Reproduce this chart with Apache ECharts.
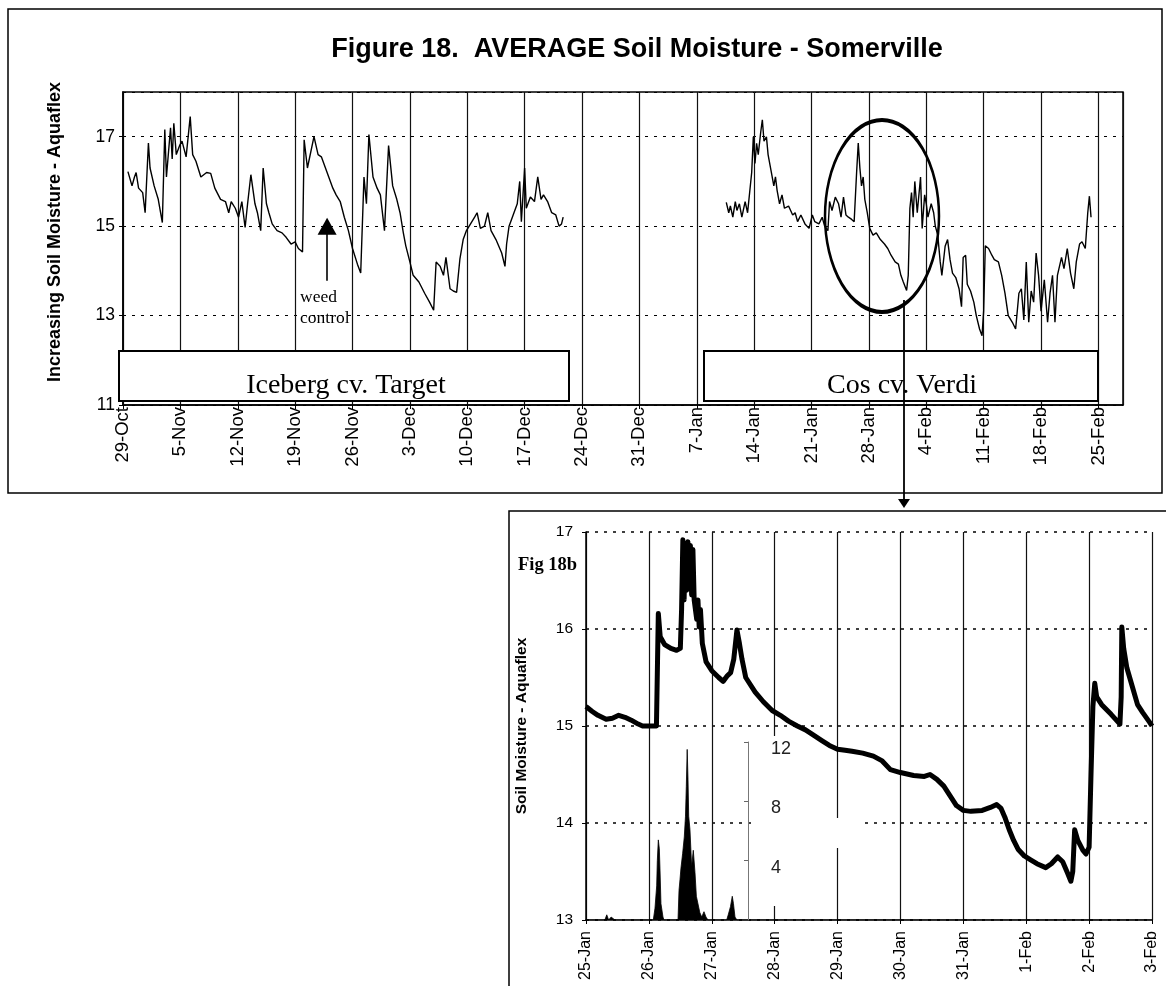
<!DOCTYPE html>
<html>
<head>
<meta charset="utf-8">
<script src="https://cdn.jsdelivr.net/npm/echarts@6/dist/echarts.min.js"></script>
<style>
  html, body { margin: 0; padding: 0; background: #fff; }
  #chart { width: 1166px; height: 986px; }
</style>
</head>
<body>
<div id="chart"></div>
<script>
// ---- Weekly tick labels (days counted from 29-Oct) ----
const weekLabels = ['29-Oct','5-Nov','12-Nov','19-Nov','26-Nov','3-Dec','10-Dec','17-Dec','24-Dec',
  '31-Dec','7-Jan','14-Jan','21-Jan','28-Jan','4-Feb','11-Feb','18-Feb','25-Feb'];
// ---- Daily tick labels for the detail panel (days counted from 25-Jan) ----
const dayLabels = ['25-Jan','26-Jan','27-Jan','28-Jan','29-Jan','30-Jan','31-Jan','1-Feb','2-Feb','3-Feb'];

// ---- Iceberg cv. Target: average soil moisture (day from 29-Oct, Aquaflex reading) ----
const icebergDay = [0.6,1.1,1.4,1.6,1.9,2.4,2.7,3.1,3.3,3.8,4.3,4.8,5.1,5.3,5.8,6.0,6.2,6.5,6.9,7.2,7.7,8.2,8.5,8.9,
  9.5,10.2,10.7,11.2,11.9,12.5,12.9,13.2,13.7,14.1,14.5,14.9,15.2,15.6,16.1,16.4,16.8,17.1,17.5,17.8,18.2,18.8,
  19.4,19.9,20.5,21.0,21.4,21.9,22.1,22.5,23.3,23.8,24.2,24.7,25.1,25.6,26.0,26.5,27.0,27.5,28.0,28.6,29.0,29.4,
  29.7,30.0,30.5,31.0,31.4,31.9,32.4,32.9,33.4,33.8,34.2,34.5,35.0,35.4,36.1,36.8,37.4,37.9,38.2,38.7,39.1,39.4,
  39.9,40.3,40.7,41.1,41.5,41.9,42.9,43.2,43.6,44.1,44.5,44.9,45.5,46.2,46.6,46.8,47.1,47.6,48.1,48.4,48.6,49.0,
  49.2,49.7,50.2,50.6,51.0,51.3,51.8,52.3,52.8,53.2,53.5,53.7];
const icebergMoisture = [16.22,15.9,16.1,16.2,15.85,15.75,15.3,16.86,16.3,15.9,15.6,15.08,17.16,16.1,17.2,16.5,17.3,16.6,
  16.8,16.9,16.55,17.45,16.6,16.45,16.1,16.2,16.18,15.85,15.6,15.55,15.3,15.55,15.4,15.2,15.55,14.97,15.5,16.15,
  15.5,15.3,14.9,16.3,15.5,15.3,15.05,14.9,14.85,14.75,14.6,14.65,14.5,14.42,16.93,16.3,17.0,16.6,16.55,16.3,16.1,
  15.85,15.7,15.55,15.2,14.9,14.5,14.15,13.95,16.1,15.5,17.05,16.1,15.85,15.7,14.9,16.8,15.9,15.6,15.3,14.85,14.56,
  14.2,13.9,13.75,13.5,13.3,13.12,14.2,14.1,13.9,14.3,13.6,13.55,13.52,14.26,14.7,14.9,15.2,15.3,14.95,15.0,15.3,
  14.9,14.7,14.4,14.1,14.6,15.0,15.25,15.5,16.0,15.1,16.3,15.4,15.65,15.55,16.1,15.6,15.7,15.55,15.3,15.25,15.0,
  15.05,15.2];

// ---- Cos cv. Verdi: average soil moisture (day from 29-Oct, Aquaflex reading) ----
const cosDay = [73.6,73.9,74.1,74.4,74.7,74.9,75.2,75.5,75.9,76.2,76.7,76.9,77.1,77.3,77.5,77.8,78.0,78.2,78.5,78.7,
  79.1,79.4,79.6,79.8,80.1,80.4,80.7,81.2,81.7,82.0,82.3,82.7,83.2,83.7,84.1,84.4,84.9,85.3,85.6,86.0,86.2,86.5,
  86.9,87.3,87.6,87.9,88.2,88.5,88.9,89.2,89.5,89.7,89.9,90.1,90.3,90.5,90.8,91.1,91.5,91.9,92.4,92.9,93.3,93.7,
  94.2,94.6,94.9,95.2,95.6,95.8,96.0,96.2,96.4,96.6,96.9,97.3,97.5,97.8,98.0,98.2,98.6,98.9,99.1,99.4,99.7,99.9,
  100.3,100.6,100.9,101.2,101.6,102.0,102.3,102.5,102.8,103.0,103.4,103.8,104.1,104.5,104.8,105.0,105.2,105.6,
  106.0,106.3,106.8,107.2,107.6,108.0,108.5,108.9,109.3,109.6,109.9,110.2,110.5,110.8,111.1,111.4,111.7,112.0,
  112.4,112.8,113.1,113.4,113.7,114.0,114.5,114.8,115.2,115.6,116.0,116.3,116.7,117.0,117.4,117.7,117.9,118.1];
const cosMoisture = [15.53,15.3,15.45,15.2,15.55,15.35,15.5,15.2,15.55,15.3,16.2,17.0,16.4,16.85,16.6,17.1,17.38,16.9,
  17.0,16.6,16.2,15.9,16.1,15.8,15.5,15.7,15.4,15.45,15.25,15.3,15.1,15.25,15.05,14.95,15.25,15.1,15.05,15.2,15.0,
  14.9,15.55,15.35,15.65,15.5,15.2,15.65,15.25,15.2,15.15,15.1,16.2,16.86,16.3,15.9,16.1,15.6,15.3,14.95,14.8,
  14.85,14.7,14.6,14.5,14.35,14.2,14.15,13.9,13.75,13.56,13.9,15.4,15.75,15.2,16.0,15.3,16.1,14.95,15.7,15.5,
  15.2,15.5,15.3,15.0,14.8,14.2,13.9,14.55,14.7,14.25,13.95,13.85,13.6,13.2,14.3,14.35,13.7,13.55,13.3,13.0,12.7,
  12.55,13.1,14.56,14.5,14.35,14.25,14.2,13.9,13.5,13.0,12.85,12.7,13.5,13.6,12.9,14.2,12.85,13.55,13.3,14.4,13.9,
  13.1,13.8,12.85,13.5,13.9,12.85,13.9,14.3,14.05,14.5,13.95,13.6,14.2,14.6,14.65,14.5,15.3,15.67,15.2];

// ---- Fig 18b detail: soil moisture 25-Jan to 3-Feb (day from 25-Jan) ----
const detailDay = [0.00,0.10,0.19,0.32,0.42,0.52,0.62,0.72,0.83,0.90,1.12,1.15,1.18,1.25,1.35,1.44,1.50,1.52,1.54,
  1.56,1.58,1.60,1.62,1.64,1.66,1.68,1.70,1.72,1.74,1.76,1.78,1.80,1.82,1.85,1.91,2.00,2.11,2.18,2.25,2.30,2.35,
  2.40,2.44,2.48,2.54,2.69,2.82,2.96,3.09,3.22,3.36,3.49,3.63,3.75,3.87,4.00,4.12,4.23,4.40,4.57,4.71,4.84,5.00,
  5.21,5.38,5.47,5.58,5.69,5.79,5.89,6.00,6.12,6.30,6.43,6.53,6.60,6.66,6.73,6.80,6.87,6.97,7.07,7.17,7.31,7.40,
  7.50,7.58,7.66,7.71,7.74,7.77,7.82,7.90,7.95,8.00,8.03,8.06,8.09,8.12,8.20,8.35,8.49,8.51,8.52,8.55,8.60,8.69,
  8.77,8.85,8.96,9.00];
const detailMoisture = [15.20,15.15,15.11,15.07,15.08,15.11,15.09,15.06,15.02,15.00,15.00,16.16,15.92,15.84,15.80,
  15.78,15.80,16.20,16.92,16.30,16.88,16.40,16.90,16.50,16.86,16.35,16.82,16.30,16.32,16.10,16.30,16.02,16.20,
  15.85,15.66,15.57,15.50,15.46,15.52,15.55,15.69,15.99,15.85,15.69,15.50,15.35,15.25,15.16,15.11,15.05,15.00,
  14.96,14.90,14.85,14.80,14.76,14.75,14.74,14.72,14.69,14.64,14.55,14.52,14.49,14.48,14.50,14.45,14.38,14.28,
  14.18,14.13,14.12,14.13,14.16,14.19,14.15,14.06,13.93,13.82,13.73,13.66,13.62,13.58,13.54,13.58,13.65,13.60,
  13.48,13.40,13.50,13.93,13.82,13.72,13.68,13.75,14.50,15.20,15.44,15.30,15.22,15.12,15.02,15.30,16.02,15.80,
  15.60,15.40,15.22,15.14,15.04,15.00];

// ---- Fig 18b detail: rainfall, mm (day from 25-Jan) ----
const rainDay = [0.00,0.30,0.33,0.36,0.40,0.43,0.46,1.07,1.097,1.124,1.134,1.150,1.166,1.176,1.192,1.224,1.24,
  1.463,1.479,1.494,1.510,1.537,1.563,1.582,1.595,1.609,1.622,1.633,1.653,1.680,1.706,1.733,1.755,1.81,1.84,
  1.876,1.908,1.94,2.237,2.265,2.297,2.326,2.345,2.369,2.40,9.00];
const rainMm = [0,0,0.35,0,0.2,0.2,0,0,0.8,2.3,4.0,5.4,4.8,3.5,1.1,0.2,0,
  0,2.0,2.7,3.5,4.5,5.6,7.0,9.0,11.5,9.5,7.0,6.1,3.6,4.7,3.2,1.6,0.5,0.2,
  0.56,0.2,0,0,0.4,0.9,1.6,1.1,0.2,0,0];

// Weed control date (day from 29-Oct) and the arrow's extent in moisture units
const weedControlDay = 24.9;
const weedArrowFrom = 13.78;
const weedArrowTo = 15.0;

const pairs = (xs, ys) => xs.map((x, i) => [x, ys[i]]);

const SANS = "'Liberation Sans', Arial, sans-serif";
const SERIF = "'Liberation Serif', 'Times New Roman', serif";

const chart = echarts.init(document.getElementById('chart'), null, { renderer: 'canvas' });

const dotted = { color: '#000', width: 1.2, type: [3, 6] };

chart.setOption({
  animation: false,
  backgroundColor: '#fff',
  grid: [
    { left: 123, top: 92, width: 1000, height: 313, show: true, borderColor: '#000', borderWidth: 1.5, backgroundColor: 'transparent' },
    { left: 586, top: 532, width: 566, height: 388 },
    { left: 586, top: 742, width: 566, height: 178 }
  ],
  xAxis: [
    {
      gridIndex: 0, type: 'value', min: 0, max: 122, interval: 7,
      axisLine: { show: true, onZero: false, lineStyle: { color: '#000', width: 1.5 } },
      axisTick: { show: true, length: 4, lineStyle: { color: '#000' } },
      splitLine: { show: true, lineStyle: { color: '#111', width: 1.2 } },
      axisLabel: {
        rotate: 90, margin: 2, showMaxLabel: false,
        fontFamily: SANS, fontSize: 18.5, color: '#000',
        formatter: v => (v % 7 === 0 ? (weekLabels[v / 7] || '') : '')
      }
    },
    {
      gridIndex: 1, type: 'value', min: 0, max: 9, interval: 1,
      axisLine: { show: true, onZero: false, lineStyle: { color: '#000', width: 1.5 } },
      axisTick: { show: true, length: 4, lineStyle: { color: '#000' } },
      splitLine: { show: true, lineStyle: { color: '#111', width: 1.2 } },
      axisLabel: {
        rotate: 90, margin: 11,
        fontFamily: SANS, fontSize: 16, color: '#000',
        formatter: v => (Number.isInteger(v) ? (dayLabels[v] || '') : '')
      }
    },
    { gridIndex: 2, type: 'value', min: 0, max: 9, show: false }
  ],
  yAxis: [
    {
      gridIndex: 0, type: 'value', min: 11, max: 18, interval: 2,
      axisLine: { show: true, lineStyle: { color: '#000', width: 1.5 } },
      axisTick: { show: true, length: 4, lineStyle: { color: '#000' } },
      splitLine: { show: true, lineStyle: dotted },
      axisLabel: { margin: 8, showMaxLabel: false, fontFamily: SANS, fontSize: 17.5, color: '#000' }
    },
    {
      gridIndex: 1, type: 'value', min: 13, max: 17, interval: 1,
      axisLine: { show: true, lineStyle: { color: '#000', width: 1.5 } },
      axisTick: { show: true, length: 4, lineStyle: { color: '#000' } },
      splitLine: { show: true, lineStyle: { color: '#000', width: 1.5, type: [3, 6] } },
      axisLabel: { margin: 13, fontFamily: SANS, fontSize: 15.5, color: '#000' },
      name: 'Soil Moisture - Aquaflex', nameLocation: 'middle', nameGap: 56,
      nameTextStyle: { fontFamily: SANS, fontSize: 15.5, fontWeight: 'bold', color: '#000' }
    },
    {
      gridIndex: 2, type: 'value', min: 0, max: 12, interval: 4,
      position: 'left', offset: -162, z: 5,
      axisLine: { show: true, lineStyle: { color: '#777', width: 1 } },
      axisTick: { show: true, length: 4, lineStyle: { color: '#666' } },
      splitLine: { show: false },
      axisLabel: {
        inside: true, margin: 23, showMinLabel: false,
        verticalAlign: 'top', lineHeight: 14,
        fontFamily: SANS, fontSize: 18, color: '#222'
      }
    }
  ],
  series: [
    {
      name: 'Iceberg cv. Target', type: 'line', xAxisIndex: 0, yAxisIndex: 0,
      data: pairs(icebergDay, icebergMoisture),
      showSymbol: false, lineStyle: { color: '#000', width: 1.4 },
      markLine: {
        silent: true, symbol: 'none',
        lineStyle: { color: '#000', width: 1.6, type: 'solid' },
        label: { show: false },
        data: [[{ coord: [weedControlDay, weedArrowFrom] }, { coord: [weedControlDay, weedArrowTo] }]]
      },
      markPoint: {
        silent: true, symbol: 'triangle', symbolSize: [19, 17],
        itemStyle: { color: '#000' },
        label: { show: false },
        data: [{ coord: [weedControlDay, weedArrowTo] }]
      }
    },
    {
      name: 'Cos cv. Verdi', type: 'line', xAxisIndex: 0, yAxisIndex: 0,
      data: pairs(cosDay, cosMoisture),
      showSymbol: false, lineStyle: { color: '#000', width: 1.4 }
    },
    {
      name: 'Soil moisture', type: 'line', xAxisIndex: 1, yAxisIndex: 1,
      data: pairs(detailDay, detailMoisture),
      showSymbol: false, lineStyle: { color: '#000', width: 5, join: 'round' }
    },
    {
      name: 'Rainfall', type: 'line', xAxisIndex: 2, yAxisIndex: 2,
      data: pairs(rainDay, rainMm),
      showSymbol: false, lineStyle: { color: '#000', width: 0.8 },
      areaStyle: { color: '#000', opacity: 1 }
    }
  ],
  graphic: [
    // outer frames
    { type: 'rect', z: 0, shape: { x: 8, y: 9, width: 1154, height: 484 }, style: { fill: 'none', stroke: '#000', lineWidth: 1.5 } },
    { type: 'rect', z: 0, shape: { x: 509, y: 511, width: 700, height: 520 }, style: { fill: 'none', stroke: '#000', lineWidth: 1.5 } },
    // title
    { type: 'text', x: 637, y: 50, z: 3, style: { text: 'Figure 18.  AVERAGE Soil Moisture - Somerville', fontFamily: SANS, fontSize: 27, fontWeight: 'bold', fill: '#000', align: 'center', verticalAlign: 'middle' } },
    // top y axis title
    { type: 'text', x: 55, y: 232, rotation: Math.PI / 2, z: 3, style: { text: 'Increasing Soil Moisture - Aquaflex', fontFamily: SANS, fontSize: 18, fontWeight: 'bold', fill: '#000', align: 'center', verticalAlign: 'middle' } },
    // crop boxes
    { type: 'rect', z: 1, shape: { x: 119, y: 351, width: 450, height: 50 }, style: { fill: '#fff', stroke: '#000', lineWidth: 2 } },
    { type: 'text', x: 346, y: 386, z: 2, style: { text: 'Iceberg cv. Target', fontFamily: SERIF, fontSize: 28, fill: '#000', align: 'center', verticalAlign: 'middle' } },
    { type: 'rect', z: 1, shape: { x: 704, y: 351, width: 394, height: 50 }, style: { fill: '#fff', stroke: '#000', lineWidth: 2 } },
    { type: 'text', x: 902, y: 386, z: 2, style: { text: 'Cos cv. Verdi', fontFamily: SERIF, fontSize: 28, fill: '#000', align: 'center', verticalAlign: 'middle' } },
    // weed control note
    { type: 'text', x: 300, y: 297, z: 3, style: { text: 'weed', fontFamily: SERIF, fontSize: 17.5, fill: '#000', align: 'left', verticalAlign: 'middle' } },
    { type: 'text', x: 300, y: 318, z: 3, style: { text: 'control', fontFamily: SERIF, fontSize: 17.5, fill: '#000', align: 'left', verticalAlign: 'middle' } },
    // highlight ellipse and pointer to the detail panel
    { type: 'circle', x: 882, y: 216, scaleY: 96 / 57, z: 4, shape: { cx: 0, cy: 0, r: 57 }, style: { fill: 'none', stroke: '#000', lineWidth: 2.5, strokeNoScale: true } },
    { type: 'line', z: 4, shape: { x1: 904, y1: 300, x2: 904, y2: 502 }, style: { stroke: '#000', lineWidth: 1.8 } },
    { type: 'polygon', z: 4, shape: { points: [[898, 499], [910, 499], [904, 508]] }, style: { fill: '#000' } },
    // detail panel label
    { type: 'text', x: 518, y: 565, z: 3, style: { text: 'Fig 18b', fontFamily: SERIF, fontSize: 18.5, fontWeight: 'bold', fill: '#000', align: 'left', verticalAlign: 'middle' } },
    // blank space behind the rainfall scale
    { type: 'rect', z: 1, shape: { x: 751, y: 736, width: 83, height: 170 }, style: { fill: '#fff' } },
    { type: 'rect', z: 1, shape: { x: 834, y: 818, width: 26, height: 30 }, style: { fill: '#fff' } }
  ]
});
</script>
</body>
</html>
